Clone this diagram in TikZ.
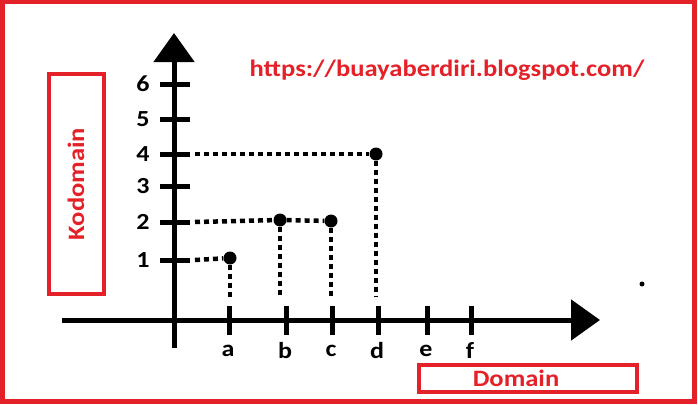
\documentclass[tikz,border=0pt]{standalone}
\usepackage{fontspec}
\setmainfont{Carlito}[FakeStretch=1.13]
\usepackage{xcolor}
\usetikzlibrary{arrows.meta}
\definecolor{blogred}{RGB}{228,32,40}

\begin{document}
\begin{tikzpicture}[x=1pt, y=-1pt,
    axis/.style={line width=5pt, -{Triangle[length=29pt, width=40pt]}},
    tickmark/.style={line width=5pt},
    guide/.style={line width=4.5pt, dash pattern=on 5pt off 4pt},
    dot/.style={circle, fill=black, inner sep=0pt, minimum size=13pt},
    redbox/.style={draw=blogred, line width=4pt, inner sep=0pt},
    lbl/.style={font=\bfseries\fontsize{23}{23}\selectfont},
    redlbl/.style={text=blogred, font=\bfseries\fontsize{23.5}{23.5}\selectfont}]
    \useasboundingbox (0,0) rectangle (698,404);
    % Outer frame
    \draw[blogred, line width=5pt] (2.5,2) rectangle (694.5,401.5);
    % Axes
    \draw[axis] (174,348) -- (174,33);
    \draw[axis] (62,320) -- (600,320);
    % Ticks on the vertical axis
    \foreach \v/\y in {1/260, 2/222, 3/186, 4/154, 5/119, 6/84} {
        \draw[tickmark] (160,\y) -- (190,\y);
        \coordinate (y\v) at (195,\y);
        \node[lbl] (ylbl\v) at (143,\y) {\v};
    }
    % Ticks on the horizontal axis
    \foreach \n/\x in {a/229, b/286, c/332, d/378, e/427, f/471} {
        \draw[tickmark] (\x,306) -- (\x,335);
        \coordinate (x\n) at (\x,297);
        \node[lbl] (xlbl\n) at (\x-1,351) {\n};
    }
    % Points of the relation
    \node[dot] (pa) at (230,258) {};
    \node[dot] (pb) at (280,220) {};
    \node[dot] (pc) at (331,221) {};
    \node[dot] (pd) at (376,154) {};
    % Dotted guide lines
    \draw[guide] (y1) -- (pa);
    \draw[guide] (y2) -- (pb);
    \draw[guide] (pb) -- (pc);
    \draw[guide] (y4) -- (pd);
    \draw[guide] (pa) -- (pa |- xa);
    \draw[guide] (pb) -- (pb |- xb);
    \draw[guide] (pc) -- (pc |- xc);
    \draw[guide] (pd) -- (pd |- xd);
    % Labels
    \node[redbox, minimum width=55pt, minimum height=220pt] (kodomain) at (76,184) {};
    \node[redlbl, rotate=90] (kodomaintext) at (kodomain) {Kodomain};
    \node[redbox, minimum width=218pt, minimum height=27pt] (domain) at (528,378) {};
    \node[redlbl] (domaintext) at (516,378) {Domain};
    \node[redlbl] (url) at (447,70) {https://buayaberdiri.blogspot.com/};
    \fill (642,284) circle (2.5pt);
\end{tikzpicture}
\end{document}
